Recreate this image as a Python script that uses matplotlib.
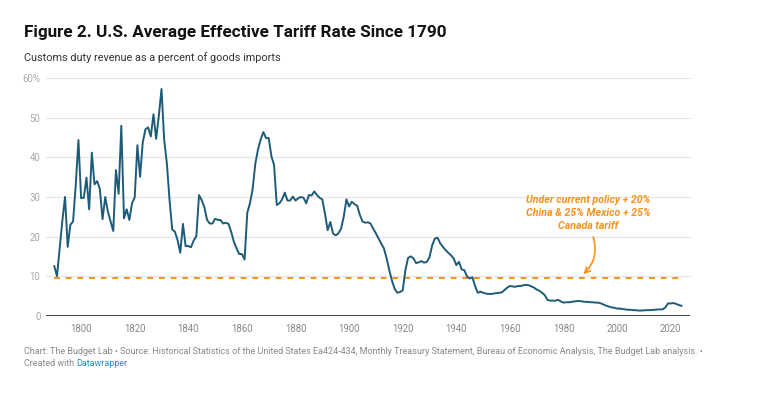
import matplotlib
matplotlib.use("Agg")
import matplotlib.pyplot as plt

plt.rcParams["font.family"] = ["Roboto", "DejaVu Sans"]

# 関税率データ（1790〜2024、年ごと）
first_year = 1790
rate = [
    12.5, 10.0, 17.0, 24.0, 30.0, 17.4, 23.0, 23.8, 33.0, 44.4,   # 1790s
    29.7, 29.8, 34.9, 26.9, 41.2, 33.2, 34.0, 32.0, 24.4, 30.0,   # 1800s
    26.3, 23.8, 21.4, 36.8, 30.8, 48.0, 24.6, 26.9, 24.2, 28.4,   # 1810s
    29.9, 43.1, 35.1, 43.8, 47.1, 47.6, 45.3, 50.9, 44.7, 50.5,   # 1820s
    57.3, 44.4, 38.5, 29.2, 21.8, 21.2, 19.1, 15.9, 23.2, 17.6,   # 1830s
    17.6, 17.3, 19.0, 20.1, 30.5, 29.2, 27.4, 24.2, 23.3, 23.3,   # 1840s
    24.5, 24.2, 24.2, 23.3, 23.5, 23.2, 21.2, 18.7, 17.0, 15.6,   # 1850s
    15.6, 14.2, 26.0, 28.4, 32.0, 38.4, 42.0, 44.5, 46.4, 44.9,   # 1860s
    44.9, 40.3, 38.1, 28.0, 28.4, 29.4, 31.1, 29.1, 29.1, 30.1,   # 1870s
    29.1, 29.7, 30.0, 29.8, 28.4, 30.5, 30.4, 31.4, 30.5, 29.8,   # 1880s
    29.4, 25.8, 21.6, 23.7, 20.8, 20.3, 20.8, 22.0, 25.0, 29.4,   # 1890s
    27.6, 28.8, 28.2, 27.8, 25.5, 23.8, 23.5, 23.6, 23.3, 22.0,   # 1900s
    20.8, 19.5, 18.2, 17.0, 14.5, 11.5, 8.8, 6.8, 5.8, 6.0,       # 1910s
    6.4, 11.5, 14.6, 15.0, 14.5, 13.3, 13.5, 13.8, 13.4, 13.6,    # 1920s
    14.8, 17.8, 19.5, 19.7, 18.3, 17.4, 16.6, 15.9, 15.3, 14.5,   # 1930s
    12.8, 13.6, 11.7, 11.5, 9.9, 9.4, 9.7, 7.5, 5.8, 6.1,         # 1940s
    5.8, 5.6, 5.5, 5.5, 5.6, 5.7, 5.8, 5.9, 6.5, 7.1,             # 1950s
    7.5, 7.4, 7.3, 7.5, 7.5, 7.7, 7.8, 7.7, 7.4, 7.1,             # 1960s
    6.6, 6.3, 5.8, 5.2, 4.0, 3.8, 3.8, 3.8, 4.0, 3.6,             # 1970s
    3.3, 3.4, 3.4, 3.5, 3.6, 3.7, 3.7, 3.6, 3.5, 3.5,             # 1980s
    3.4, 3.4, 3.3, 3.3, 3.1, 2.8, 2.5, 2.3, 2.1, 2.0,             # 1990s
    1.8, 1.8, 1.7, 1.6, 1.5, 1.5, 1.4, 1.4, 1.3, 1.3,             # 2000s
    1.35, 1.4, 1.4, 1.45, 1.5, 1.55, 1.6, 1.6, 2.1, 3.1,          # 2010s
    3.1, 3.2, 3.0, 2.7, 2.5,                                      # 2020s
]
years = list(range(first_year, first_year + len(rate)))

policy_rate = 9.5
y_ticks = [0, 10, 20, 30, 40, 50, 60]
y_labels = ["0", "10", "20", "30", "40", "50", "60%"]
x_ticks = [1800, 1820, 1840, 1860, 1880, 1900, 1920, 1940, 1960, 1980, 2000, 2020]

LINE = "#1d5c78"
ORANGE = "#f7931e"

fig = plt.figure(figsize=(7.84, 3.99), dpi=100)
ax = fig.add_axes([46 / 784, 1 - 315.7 / 399, (690 - 46) / 784, (315.7 - 78.3) / 399])

for t in y_ticks[1:]:
    ax.axhline(t, color="#e6e6e6", lw=0.9, zorder=0, clip_on=False)
ax.axhline(0, color="#333333", lw=1.3, zorder=3)

ax.axhline(policy_rate, xmin=(1790 - 1786.9) / (2027.2 - 1786.9),
           xmax=(2024.5 - 1786.9) / (2027.2 - 1786.9),
           color=ORANGE, lw=1.4, ls=(0, (3, 3)), zorder=2)
ax.plot(years, rate, color=LINE, lw=1.4, zorder=4, solid_joinstyle="round")

ax.set_xlim(1786.9, 2027.2)
ax.set_ylim(0, 60)
ax.set_yticks(y_ticks)
ax.set_yticklabels(y_labels)
ax.set_xticks(x_ticks)
ax.tick_params(axis="both", length=0, labelsize=6.9, colors="#aaaaaa")
ax.tick_params(axis="x", pad=6, colors="#888888")
ax.tick_params(axis="y", pad=4)
for s in ax.spines.values():
    s.set_visible(False)

# 注釈
ax.text(1989.2, 25.9, "Under current policy + 20%\nChina & 25% Mexico + 25%\nCanada tariff",
        ha="center", va="center", fontsize=7.7, fontweight="bold", fontstyle="italic",
        color=ORANGE, linespacing=1.35)
ax.annotate("", xy=(1987.4, 10.5), xytext=(1991.1, 19.9),
            arrowprops=dict(arrowstyle="->", color=ORANGE, lw=1.2,
                            connectionstyle="arc3,rad=-0.3", shrinkA=0, shrinkB=0))

# タイトル
fig.text(24 / 784, 1 - 33 / 399, "Figure 2. U.S. Average Effective Tariff Rate Since 1790",
         fontsize=12.3, fontweight="bold", color="#111111", va="center")
fig.text(24 / 784, 1 - 58 / 399, "Customs duty revenue as a percent of goods imports",
         fontsize=7.8, color="#333333", va="center")

# 出典
foot = ("Chart: The Budget Lab \u2022 Source: Historical Statistics of the United States Ea424-434, "
        "Monthly Treasury Statement, Bureau of Economic Analysis, The Budget Lab analysis. \u2022")
fig.text(24 / 784, 1 - 352 / 399, foot, fontsize=6.5, color="#888888", va="center")
t1 = fig.text(24 / 784, 1 - 363.5 / 399, "Created with ", fontsize=6.5, color="#888888", va="center")
fig.canvas.draw()
bb = t1.get_window_extent()
fig.text(bb.x1 / 784, 1 - 363.5 / 399, "Datawrapper", fontsize=6.5, color="#1d8fc9", va="center")

fig.savefig("out.png", dpi=100)
